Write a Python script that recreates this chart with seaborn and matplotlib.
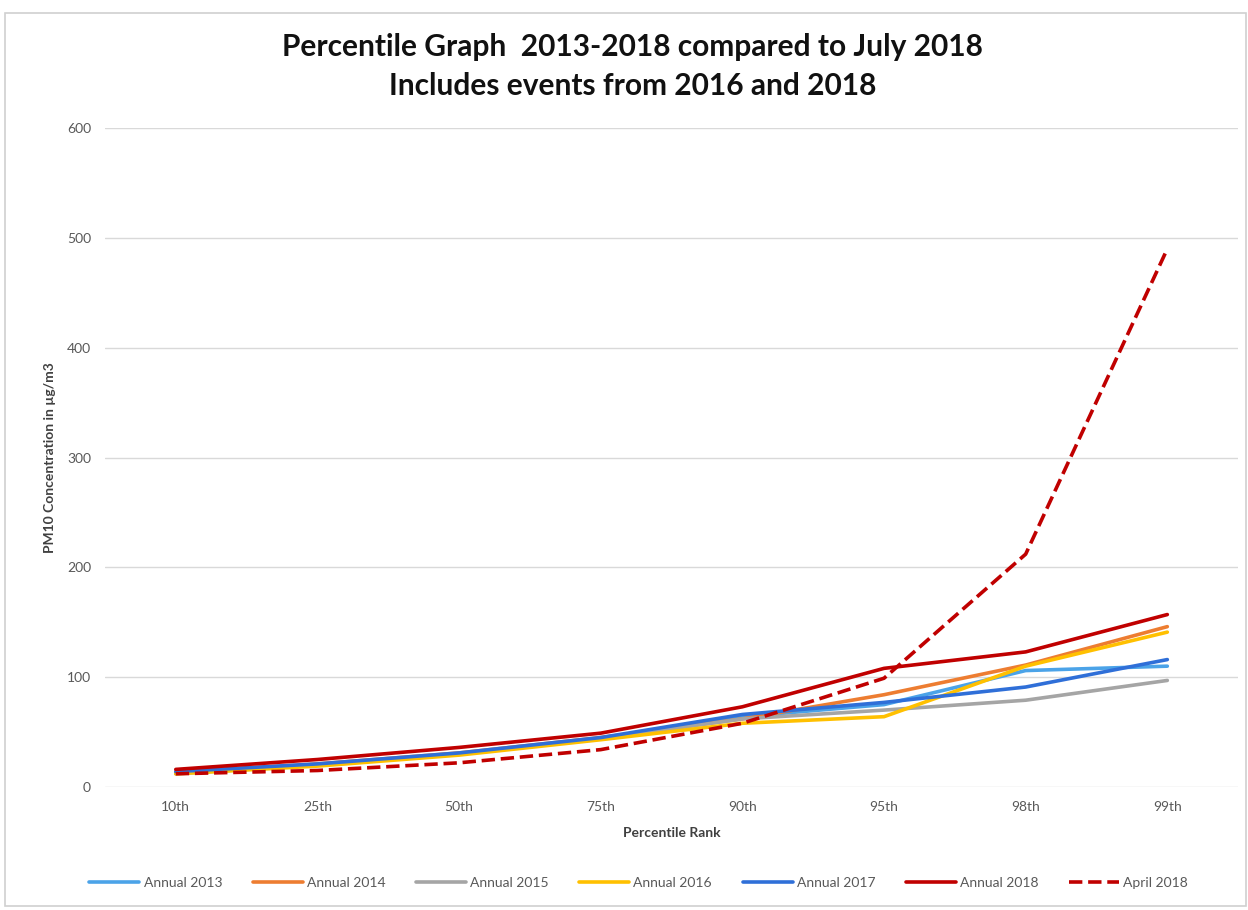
import pandas as pd
import matplotlib
matplotlib.use('Agg')
import matplotlib.pyplot as plt
import seaborn as sns
from matplotlib.patches import Rectangle

# percentile ranks on the x axis
ranks = ['10th', '25th', '50th', '75th', '90th', '95th', '98th', '99th']

# PM10 values (ug/m3)
annual_2013 = [13, 20, 30, 44, 64, 75, 106, 110]
annual_2014 = [13, 21, 31, 45, 62, 84, 111, 146]
annual_2015 = [12, 20, 30, 44, 62, 70, 79, 97]
annual_2016 = [12, 19, 29, 43, 58, 64, 110, 141]
annual_2017 = [14, 21, 31, 45, 66, 77, 91, 116]
annual_2018 = [16, 25, 36, 49, 73, 108, 123, 157]
april_2018 = [12, 15, 22, 34, 58, 99, 212, 490]

series_names = ['Annual 2013', 'Annual 2014', 'Annual 2015', 'Annual 2016',
                'Annual 2017', 'Annual 2018', 'April 2018']
series_vals = [annual_2013, annual_2014, annual_2015, annual_2016,
               annual_2017, annual_2018, april_2018]
colors = ['#4BA3E8', '#ED7D31', '#A5A5A5', '#FFC000', '#2F6FD8', '#C00000', '#C00000']

#Build long-form table
rows = []
for name, vals in zip(series_names, series_vals):
    for r, v in zip(ranks, vals):
        rows.append({'Rank': r, 'Value': v, 'Series': name})
df = pd.DataFrame(rows)

sns.set_style('white')
plt.rcParams['font.family'] = ['Lato', 'DejaVu Sans']

fig = plt.figure(figsize=(12.48, 9.10), dpi=100)
ax = fig.add_axes([0.0841, 0.1352, 0.908, 0.7241])

for name, col in zip(series_names, colors):
    sub = df[df['Series'] == name]
    sns.lineplot(data=sub, x='Rank', y='Value', ax=ax, color=col, linewidth=2.6,
                 label=name, linestyle='--' if name == 'April 2018' else '-',
                 dashes=False if name != 'April 2018' else (3, 2.2), sort=False)

ax.set_xlim(-0.5, len(ranks) - 0.5)
ax.set_ylim(0, 600)
ax.set_yticks(range(0, 601, 100))
ax.grid(axis='y', color='#D9D9D9', linewidth=1)
ax.set_axisbelow(True)
for s in ax.spines.values():
    s.set_visible(False)
ax.tick_params(axis='both', length=0, labelsize=10, labelcolor='#595959', pad=10)

ax.set_xlabel('Percentile Rank', fontsize=10, fontweight='bold', color='#404040', labelpad=10)
ax.set_ylabel('PM10 Concentration in µg/m3', fontsize=10, fontweight='bold', color='#404040', labelpad=8)

leg = ax.legend(loc='upper center', bbox_to_anchor=(0.471, -0.118), ncol=7, frameon=False,
                fontsize=10, handlelength=3.6, columnspacing=2.2, handletextpad=0.3)
for t in leg.get_texts():
    t.set_color('#595959')

fig.text(0.507, 0.948, 'Percentile Graph  2013-2018 compared to July 2018',
         ha='center', va='center', fontsize=21.5, fontweight='bold', color='#111111')
fig.text(0.507, 0.905, 'Includes events from 2016 and 2018',
         ha='center', va='center', fontsize=21.5, fontweight='bold', color='#111111')

fig.patches.append(Rectangle((0.004, 0.004), 0.994, 0.982, transform=fig.transFigure,
                             fill=False, edgecolor='#D0D0D0', linewidth=1.2))

fig.savefig('out.png', dpi=100)
